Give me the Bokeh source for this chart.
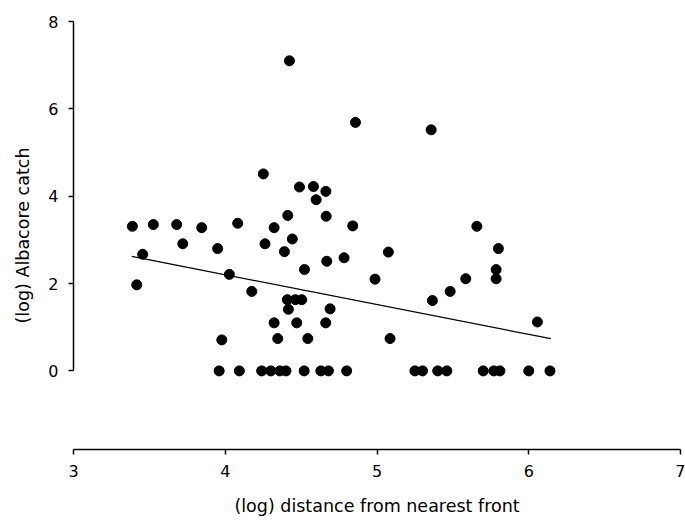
from bokeh.plotting import figure
from bokeh.models import Range1d, FixedTicker
from bokeh.embed import file_html
from bokeh.resources import INLINE

# Non-zero catches: (log) distance, (log) catch
dist_pos = [3.388, 3.526, 3.680, 3.845, 4.082, 4.412, 4.322, 4.442, 4.262, 4.390,
            3.720, 3.950, 3.456, 4.027, 3.417, 4.175, 4.423, 4.858, 4.251, 4.489,
            4.581, 4.663, 4.599, 4.665, 4.840, 4.669, 4.783, 4.522, 4.987, 4.409,
            4.462, 4.504, 4.416, 4.691, 4.322, 4.471, 4.662, 4.346, 4.544, 3.977,
            5.075, 5.800, 5.785, 5.785, 5.585, 5.482, 5.365, 5.086, 6.057, 5.357,
            5.658]
catch_pos = [3.31, 3.35, 3.35, 3.28, 3.38, 3.56, 3.28, 3.02, 2.91, 2.73,
             2.91, 2.80, 2.67, 2.21, 1.97, 1.82, 7.10, 5.69, 4.51, 4.21,
             4.22, 4.11, 3.92, 3.54, 3.32, 2.51, 2.59, 2.32, 2.10, 1.63,
             1.63, 1.63, 1.41, 1.42, 1.10, 1.10, 1.10, 0.74, 0.74, 0.71,
             2.72, 2.80, 2.32, 2.11, 2.11, 1.82, 1.61, 0.74, 1.12, 5.52,
             3.31]

# Zero catches
dist_zero = [3.96, 4.093, 4.24, 4.30, 4.36, 4.40, 4.52, 4.63, 4.68, 4.80,
             5.25, 5.30, 5.40, 5.46, 5.70, 5.77, 5.81, 6.00, 6.14]
catch_zero = [0.0] * len(dist_zero)

# Regression line
fit_slope = -0.682
fit_intercept = 4.928
fit_x = [3.384, 6.146]

x_ticks = [3, 4, 5, 6, 7]
y_ticks = [0, 2, 4, 6, 8]

dist = dist_pos + dist_zero
catch = catch_pos + catch_zero
fit_y = [fit_intercept + fit_slope * v for v in fit_x]

p = figure(width=685, height=522, output_backend="svg", toolbar_location=None,
           x_range=Range1d(3, 7), y_range=Range1d(-1.8, 8),
           min_border_left=73, min_border_right=5, min_border_top=21,
           min_border_bottom=73)
p.outline_line_color = None
p.grid.visible = False
p.background_fill_color = "white"
p.border_fill_color = "white"

p.line(fit_x, fit_y, line_color="black", line_width=1.3)
p.scatter(dist, catch, marker="circle", size=10, fill_color="black", line_color="black")

font = "DejaVu Sans"
for ax in (p.xaxis[0], p.yaxis[0]):
    ax.axis_line_color = "black"
    ax.axis_line_width = 1.5
    ax.major_tick_line_color = "black"
    ax.major_tick_line_width = 1.5
    ax.major_tick_in = 0
    ax.major_tick_out = 5
    ax.minor_tick_line_color = None
    ax.major_label_text_font = font
    ax.major_label_text_font_size = "16px"
    ax.major_label_text_color = "black"
    ax.axis_label_text_font = font
    ax.axis_label_text_font_size = "17.5px"
    ax.axis_label_text_font_style = "normal"
    ax.axis_label_text_color = "black"

p.xaxis[0].ticker = FixedTicker(ticks=x_ticks)
p.yaxis[0].ticker = FixedTicker(ticks=y_ticks)
p.xaxis[0].bounds = (3, 7)
p.yaxis[0].bounds = (0, 8)
p.xaxis[0].major_label_standoff = 10
p.yaxis[0].major_label_standoff = 10
p.xaxis[0].axis_label = "(log) distance from nearest front"
p.yaxis[0].axis_label = "(log) Albacore catch"
p.xaxis[0].axis_label_standoff = 16
p.yaxis[0].axis_label_standoff = 12

open("out.html", "w").write(file_html(p, INLINE))
